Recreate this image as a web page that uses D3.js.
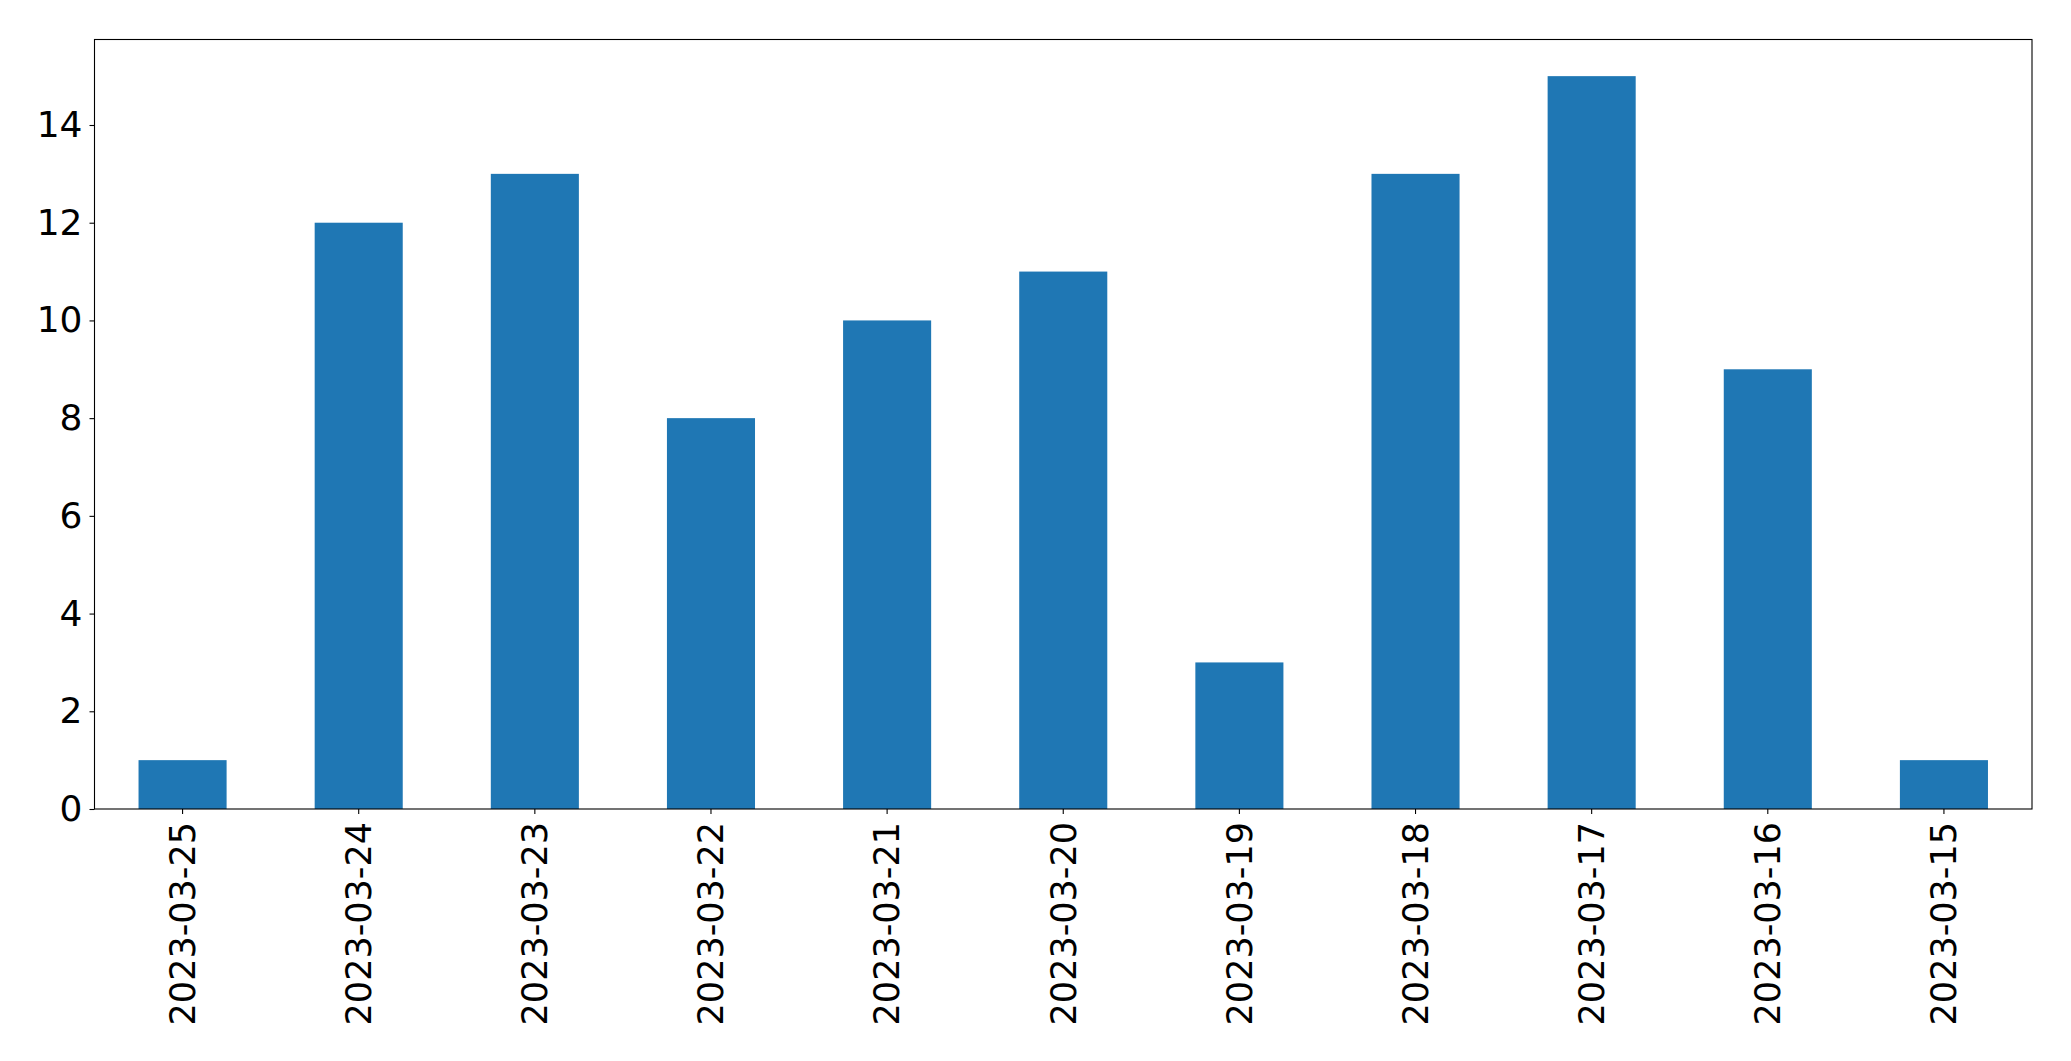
<!DOCTYPE html>
<html>
<head>
<meta charset="utf-8">
<script src="https://cdn.jsdelivr.net/npm/d3@7"></script>
<style>
  body { margin: 0; background: #fff; }
  svg text { font-family: "DejaVu Sans", sans-serif; }
</style>
</head>
<body>
<svg id="chart" width="2071" height="1061"></svg>
<script>
const dates = ['2023-03-25', '2023-03-24', '2023-03-23', '2023-03-22', '2023-03-21', '2023-03-20',
  '2023-03-19', '2023-03-18', '2023-03-17', '2023-03-16', '2023-03-15']
const counts = [1, 12, 13, 8, 10, 11, 3, 13, 15, 9, 1]
const yTicks = [0, 2, 4, 6, 8, 10, 12, 14]

const WIDTH = 2071
const HEIGHT = 1061
const MARGINS = { top: 39.5, right: 39, bottom: 252, left: 94.5 }

const svg = d3.select('#chart')

const xScale = d3.scaleBand()
  .domain(dates)
  .range([MARGINS.left, WIDTH - MARGINS.right])
  .paddingInner(0.5)
  .paddingOuter(0.25)

const yMax = d3.max(counts) * 1.05
const yScale = d3.scaleLinear()
  .domain([0, yMax])
  .range([HEIGHT - MARGINS.bottom, MARGINS.top])

// bars
svg.append('g')
  .selectAll('rect')
  .data(dates)
  .join('rect')
  .attr('x', d => xScale(d))
  .attr('width', xScale.bandwidth())
  .attr('y', (d, i) => yScale(counts[i]))
  .attr('height', (d, i) => yScale(0) - yScale(counts[i]))
  .attr('fill', '#1f77b4')

// axes
const xAxis = d3.axisBottom(xScale).tickSizeOuter(0).tickSize(5).tickPadding(6)
const yAxis = d3.axisLeft(yScale).tickValues(yTicks).tickSizeOuter(0).tickSize(5).tickPadding(7)

const gx = svg.append('g')
  .attr('transform', `translate(0, ${HEIGHT - MARGINS.bottom})`)
  .call(xAxis)

gx.selectAll('text')
  .attr('font-size', 35)
  .attr('fill', '#000')
  .attr('text-anchor', 'end')
  .attr('dy', '0.35em')
  .attr('transform', 'rotate(-90)')
  .attr('x', -13)
  .attr('y', 0)

const gy = svg.append('g')
  .attr('transform', `translate(${MARGINS.left}, 0)`)
  .call(yAxis)

gy.selectAll('text')
  .attr('font-size', 36)
  .attr('fill', '#000')

svg.selectAll('.domain').remove()
svg.selectAll('.tick line').attr('stroke', '#000').attr('stroke-width', 1.1)

// frame
svg.append('rect')
  .attr('x', MARGINS.left)
  .attr('y', MARGINS.top)
  .attr('width', WIDTH - MARGINS.left - MARGINS.right)
  .attr('height', HEIGHT - MARGINS.top - MARGINS.bottom)
  .attr('fill', 'none')
  .attr('stroke', '#000')
  .attr('stroke-width', 1.1)
</script>
</body>
</html>
